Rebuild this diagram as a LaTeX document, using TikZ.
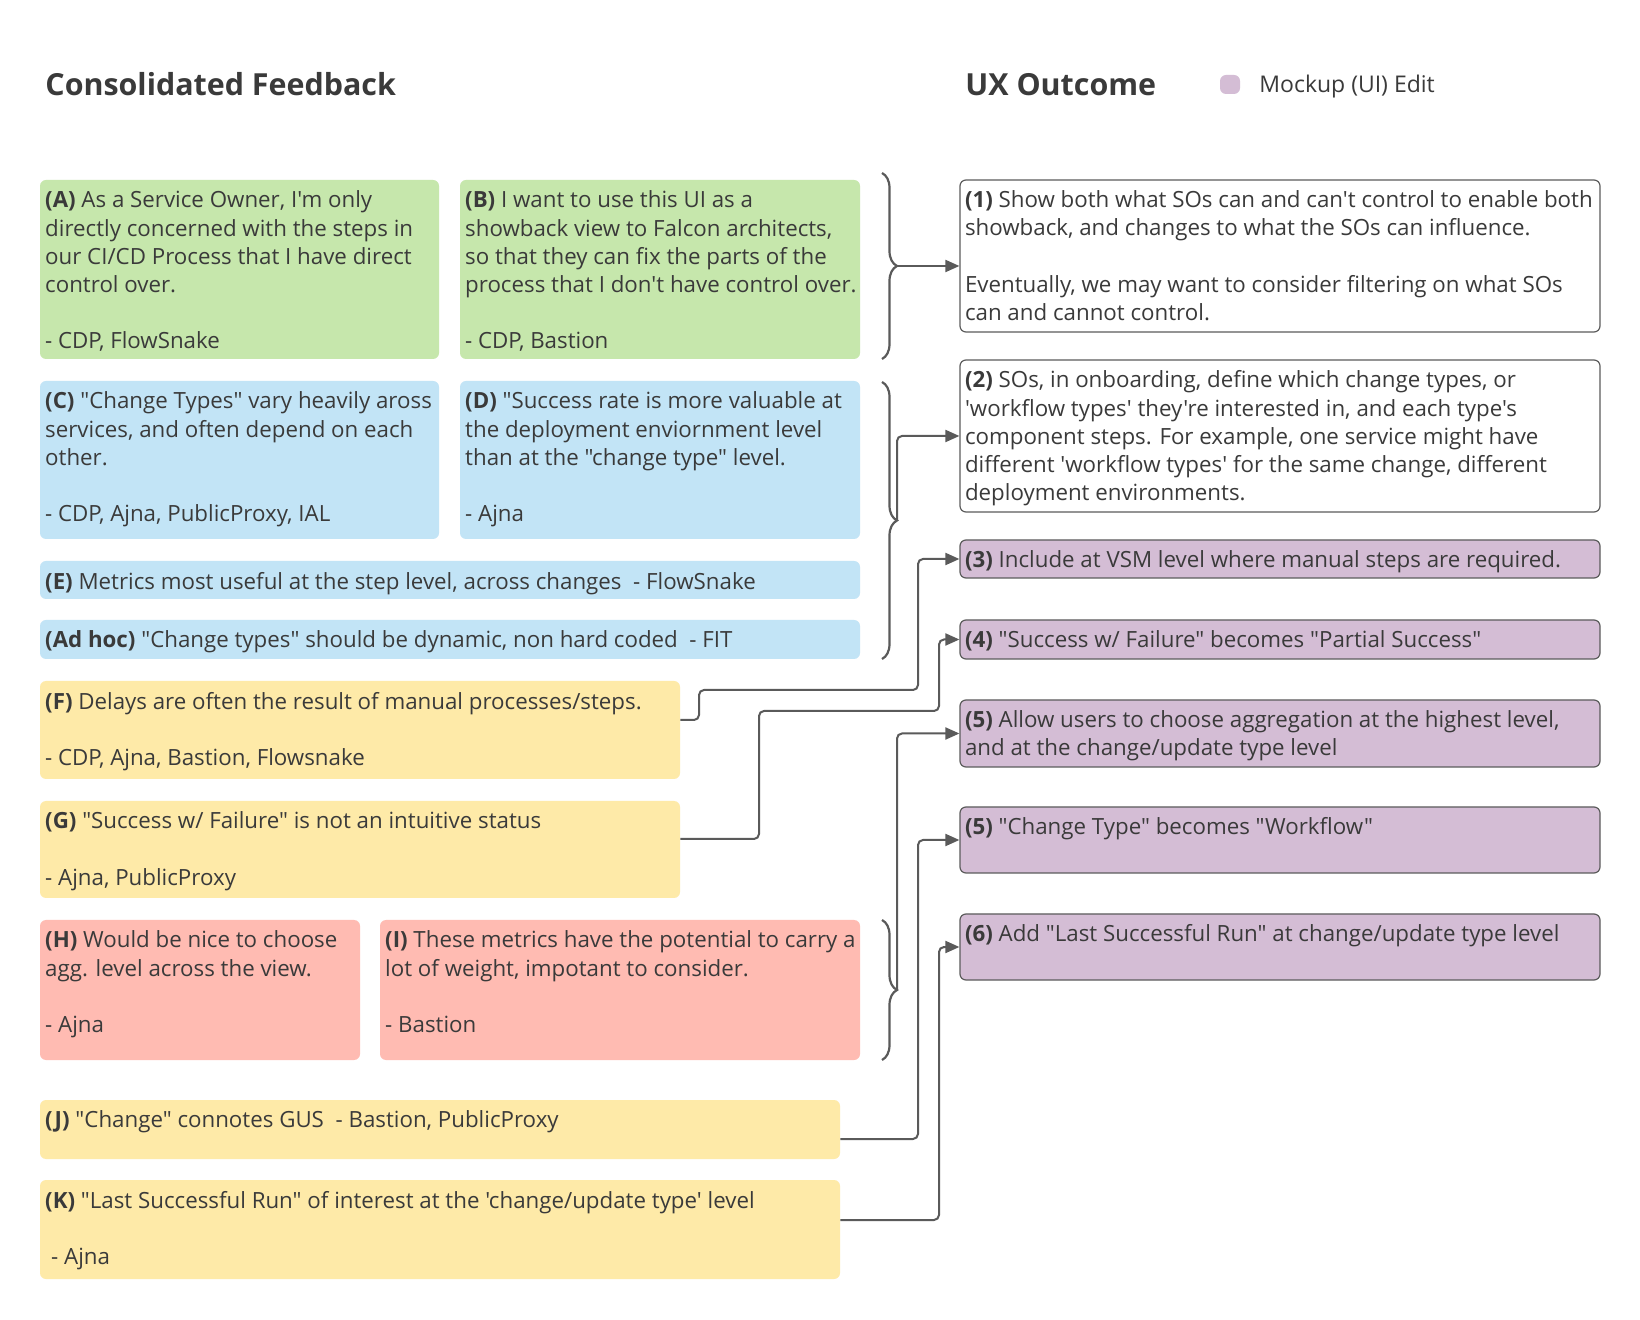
\documentclass[tikz,border=0pt]{standalone}
\usepackage{fontspec}
\newfontfamily\osans{Open Sans}
\usetikzlibrary{arrows.meta,decorations.pathreplacing,fit}

\definecolor{fbgreen}{HTML}{C6E7AC}
\definecolor{fbblue}{HTML}{C2E4F6}
\definecolor{fbyellow}{HTML}{FEEAA8}
\definecolor{fbred}{HTML}{FFBBB2}
\definecolor{mockup}{HTML}{D4BDD5}
\definecolor{txtgray}{HTML}{3A3A3A}
\definecolor{linkgray}{HTML}{5A5A5A}
\definecolor{boxline}{HTML}{5C5C5C}

\begin{document}
\begin{tikzpicture}[x=0.5pt,y=-0.5pt,
    card/.style={rounded corners=3pt, inner sep=0pt},
    ux/.style={card, draw=boxline, line width=0.6pt},
    txt/.style={anchor=north west, align=left, inner xsep=2.6pt, inner ysep=5.5pt,
      text=txtgray, font=\osans\fontsize{11.15}{14.1}\selectfont},
    head/.style={anchor=base west, inner sep=0pt, text=txtgray,
      font=\osans\bfseries\fontsize{15.2}{18}\selectfont},
    link/.style={draw=linkgray, line width=1pt, rounded corners=2.5pt,
      -{Triangle[length=7pt,width=6pt]}},
    brc/.style={draw=linkgray, line width=1.1pt, decorate,
      decoration={brace, amplitude=7.5pt}}]
  \useasboundingbox[fill=white] (0,0) rectangle (1640,1320);

  % headings and legend
  \node[head] (hd-fb) at (45,96) {Consolidated Feedback};
  \node[head] (hd-ux) at (965,96) {UX Outcome};
  \node[card, fill=mockup, fit={(1220,75) (1240,94)}] (lgd) {};
  \node[txt, anchor=base west, inner sep=0pt, font=\osans\fontsize{11.5}{14}\selectfont] (lgd-t) at (1259,93) {Mockup (UI) Edit};

  % feedback cards
  \node[card, fill=fbgreen, fit={(40,180) (439,359)}] (A) {};
  \node[txt] (A-t) at (A.north west) {\textbf{(A)} As a Service Owner, I'm only\\directly concerned with the steps in\\our CI/CD Process that I have direct\\control over.\\[14.1pt]- CDP, FlowSnake};
  \node[card, fill=fbgreen, fit={(460,180) (860,359)}] (B) {};
  \node[txt] (B-t) at (B.north west) {\textbf{(B)} I want to use this UI as a\\showback view to Falcon architects,\\so that they can fix the parts of the\\process that I don't have control over.\\[14.1pt]- CDP, Bastion};
  \node[card, fill=fbblue, fit={(40,381) (439,539)}] (C) {};
  \node[txt] (C-t) at (C.north west) {\textbf{(C)} "Change Types" vary heavily aross\\services, and often depend on each\\other.\\[14.1pt]- CDP, Ajna, PublicProxy, IAL};
  \node[card, fill=fbblue, fit={(460,381) (860,539)}] (D) {};
  \node[txt] (D-t) at (D.north west) {\textbf{(D)} "Success rate is more valuable at\\the deployment enviornment level\\than at the "change type" level.\\[14.1pt]- Ajna};
  \node[card, fill=fbblue, fit={(40,561) (860,599)}] (E) {};
  \node[txt] (E-t) at (E.north west) {\textbf{(E)} Metrics most useful at the step level, across changes\ \ - FlowSnake};
  \node[card, fill=fbblue, fit={(40,620) (860,659)}] (adhoc) {};
  \node[txt] (adhoc-t) at (adhoc.north west) {\textbf{(Ad hoc)} "Change types" should be dynamic, non hard coded\ \ - FIT};
  \node[card, fill=fbyellow, fit={(40,681) (680,779)}] (F) {};
  \node[txt] (F-t) at (F.north west) {\textbf{(F)} Delays are often the result of manual processes/steps.\\[14.1pt]- CDP, Ajna, Bastion, Flowsnake};
  \node[card, fill=fbyellow, fit={(40,801) (680,898)}] (G) {};
  \node[txt] (G-t) at (G.north west) {\textbf{(G)} "Success w/ Failure" is not an intuitive status\\[14.1pt]- Ajna, PublicProxy};
  \node[card, fill=fbred, fit={(40,920) (360,1060)}] (H) {};
  \node[txt] (H-t) at (H.north west) {\textbf{(H)} Would be nice to choose\\agg. level across the view.\\[14.1pt]- Ajna};
  \node[card, fill=fbred, fit={(380,920) (860,1060)}] (I) {};
  \node[txt] (I-t) at (I.north west) {\textbf{(I)} These metrics have the potential to carry a\\lot of weight, impotant to consider.\\[14.1pt]- Bastion};
  \node[card, fill=fbyellow, fit={(40,1100) (840,1159)}] (J) {};
  \node[txt] (J-t) at (J.north west) {\textbf{(J)} "Change" connotes GUS\ \ - Bastion, PublicProxy};
  \node[card, fill=fbyellow, fit={(40,1180) (840,1279)}] (K) {};
  \node[txt] (K-t) at (K.north west) {\textbf{(K)} "Last Successful Run" of interest at the 'change/update type' level\\[14.1pt]\hspace{3pt}- Ajna};

  % outcome boxes
  \node[ux, fill=white, fit={(960,180) (1600,332)}] (o1) {};
  \node[txt] (o1-t) at (o1.north west) {\textbf{(1)} Show both what SOs can and can't control to enable both\\showback, and changes to what the SOs can influence.\\[14.1pt]Eventually, we may want to consider filtering on what SOs\\can and cannot control.};
  \node[ux, fill=white, fit={(960,360) (1600,512)}] (o2) {};
  \node[txt] (o2-t) at (o2.north west) {\textbf{(2)} SOs, in onboarding, define which change types, or\\'workflow types' they're interested in, and each type's\\component steps. For example, one service might have\\different 'workflow types' for the same change, different\\deployment environments.};
  \node[ux, fill=mockup, fit={(960,540) (1600,578)}] (o3) {};
  \node[txt] (o3-t) at (o3.north west) {\textbf{(3)} Include at VSM level where manual steps are required.};
  \node[ux, fill=mockup, fit={(960,620) (1600,659)}] (o4) {};
  \node[txt] (o4-t) at (o4.north west) {\textbf{(4)} "Success w/ Failure" becomes "Partial Success"};
  \node[ux, fill=mockup, fit={(960,700) (1600,767)}] (o5) {};
  \node[txt] (o5-t) at (o5.north west) {\textbf{(5)} Allow users to choose aggregation at the highest level,\\and at the change/update type level};
  \node[ux, fill=mockup, fit={(960,807) (1600,873)}] (o5b) {};
  \node[txt] (o5b-t) at (o5b.north west) {\textbf{(5)} "Change Type" becomes "Workflow"};
  \node[ux, fill=mockup, fit={(960,914) (1600,980)}] (o6) {};
  \node[txt] (o6-t) at (o6.north west) {\textbf{(6)} Add "Last Successful Run" at change/update type level};

  % braces
  \draw[brc] (882,173) -- (882,359);
  \draw[brc] (882,382) -- (882,659);
  \draw[brc] (882,920) -- (882,1060);
  \coordinate (br1) at (897,266);
  \coordinate (br2) at (897,520);
  \coordinate (br3) at (897,989);

  % connectors
  \draw[link] (br1) -- (br1 -| o1.west);
  \draw[link] (br2) |- (o2.west);
  \draw[link] (F.east |- 0,720) -| (699,690) -- (918,690) |- (o3.west);
  \draw[link] (G.east |- 0,839) -| (759,711) -- (939,711) |- (o4.west);
  \draw[link] (br3) |- (o5.west);
  \draw[link] (J.east |- 0,1139) -- (918,1139) |- (o5b.west);
  \draw[link] (K.east |- 0,1220) -- (939,1220) |- (o6.west);
\end{tikzpicture}
\end{document}
